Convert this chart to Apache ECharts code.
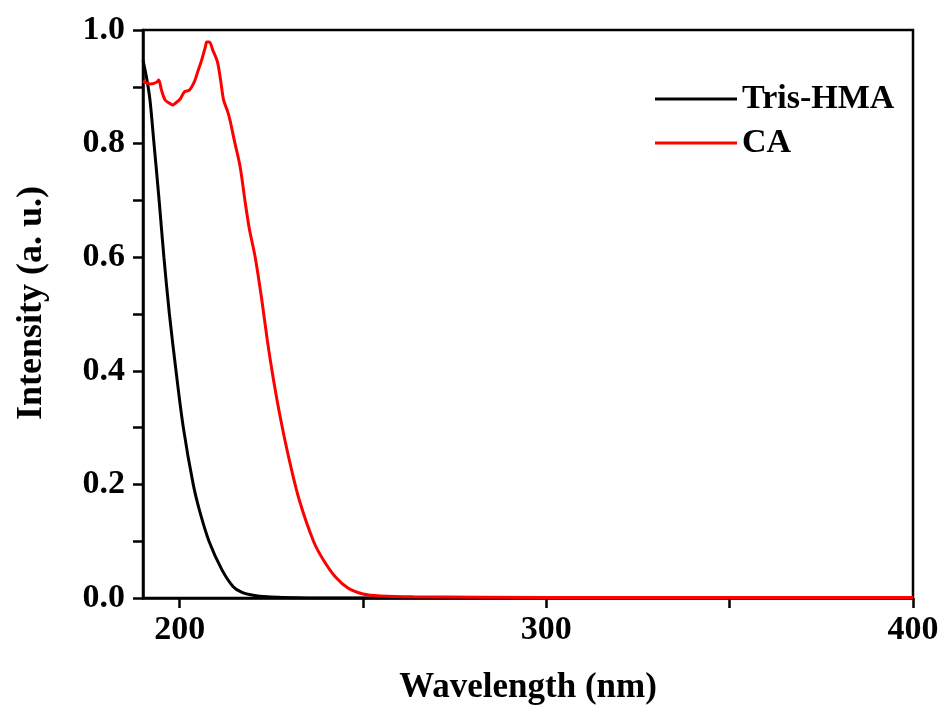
<!DOCTYPE html>
<html>
<head>
<meta charset="utf-8">
<script src="https://cdn.jsdelivr.net/npm/echarts@6/dist/echarts.min.js"></script>
<style>html,body{margin:0;padding:0;background:#fff}#c{width:946px;height:713px}</style>
</head>
<body>
<div id="c"></div>
<script>
const seriesNames = ['Tris-HMA', 'CA'];
const trisX = [190, 191, 191.9, 193, 194.4, 195.7, 197.2, 199, 201, 203.7, 205.5, 208, 211.5, 214.6, 217, 220, 224, 228, 240, 300, 400];
const trisY = [0.947, 0.915, 0.877, 0.80, 0.70, 0.60, 0.50, 0.40, 0.30, 0.20, 0.152, 0.10, 0.05, 0.02, 0.01, 0.005, 0.002, 0.001, 0, 0, 0];
const caX = [190, 192, 193.7, 194.3, 195, 196, 197, 198.1, 199, 200.1, 201.3, 202.6, 203.3, 204.2, 205, 206, 207, 207.4, 208.1, 209, 210.3, 211.2, 212, 213, 213.7, 214.6, 215.1, 216.5, 217.8, 219, 220.6, 222.4, 223.9, 225.6, 227.6, 229.9, 232.6, 236.5, 239.2, 242.5, 246, 250, 254.7, 263.7, 300, 400];
const caY = [0.910, 0.905, 0.908, 0.912, 0.895, 0.877, 0.872, 0.868, 0.872, 0.878, 0.891, 0.894, 0.900, 0.912, 0.928, 0.947, 0.970, 0.979, 0.979, 0.965, 0.944, 0.91, 0.876, 0.858, 0.842, 0.815, 0.80, 0.759, 0.70, 0.65, 0.60, 0.525, 0.454, 0.384, 0.313, 0.243, 0.173, 0.100, 0.067, 0.037, 0.017, 0.007, 0.0035, 0.002, 0.001, 0.001];
const xLabelValues = [200, 300, 400];
const xTickValues = [200, 250, 300, 350, 400];

const pair = (xs, ys) => xs.map((x, i) => [x, ys[i]]);
const font = '"Liberation Serif", "Times New Roman", serif';
const chart = echarts.init(document.getElementById('c'), null, {renderer: 'canvas'});
chart.setOption({
  animation: false,
  backgroundColor: '#fff',
  grid: {left: 143, right: 33, top: 30, bottom: 115, show: true, borderColor: '#000', borderWidth: 2.5, backgroundColor: 'transparent'},
  legend: {
    orient: 'vertical', left: 650, top: 77, itemWidth: 82, itemHeight: 3, itemGap: 10,
    icon: 'rect',
    data: seriesNames,
    textStyle: {fontFamily: font, fontWeight: 'bold', fontSize: 34, color: '#000', lineHeight: 34}
  },
  xAxis: {
    type: 'value', min: 190, max: 400,
    name: 'Wavelength (nm)', nameLocation: 'middle', nameGap: 72,
    nameTextStyle: {fontFamily: font, fontWeight: 'bold', fontSize: 35, color: '#000'},
    axisLine: {show: true, onZero: false, lineStyle: {color: '#000', width: 2.5}},
    axisTick: {show: true, inside: false, length: 10, customValues: xTickValues, lineStyle: {color: '#000', width: 2.5}},
    axisLabel: {customValues: xLabelValues, margin: 15, fontFamily: font, fontWeight: 'bold', fontSize: 34, color: '#000'},
    splitLine: {show: false}
  },
  yAxis: {
    type: 'value', min: 0, max: 1, interval: 0.2,
    name: 'Intensity (a. u.)', nameLocation: 'middle', nameGap: 93, nameRotate: 90,
    nameTextStyle: {fontFamily: font, fontWeight: 'bold', fontSize: 36, color: '#000', padding: [0, 0, 0, 22]},
    axisLine: {show: true, lineStyle: {color: '#000', width: 2.5}},
    axisTick: {show: true, inside: false, length: 10, lineStyle: {color: '#000', width: 2.5}},
    minorTick: {show: true, splitNumber: 2, length: 10, lineStyle: {color: '#000', width: 2.5}},
    axisLabel: {margin: 18, formatter: v => v.toFixed(1), fontFamily: font, fontWeight: 'bold', fontSize: 34, color: '#000'},
    splitLine: {show: false}
  },
  series: [
    {name: seriesNames[0], type: 'line', data: pair(trisX, trisY), showSymbol: false, smooth: 0.3,
     lineStyle: {color: '#000', width: 3}, itemStyle: {color: '#000'}, z: 3},
    {name: seriesNames[1], type: 'line', data: pair(caX, caY), showSymbol: false, smooth: 0.3,
     lineStyle: {color: '#ff0000', width: 3}, itemStyle: {color: '#ff0000'}, z: 4}
  ]
});
</script>
</body>
</html>
